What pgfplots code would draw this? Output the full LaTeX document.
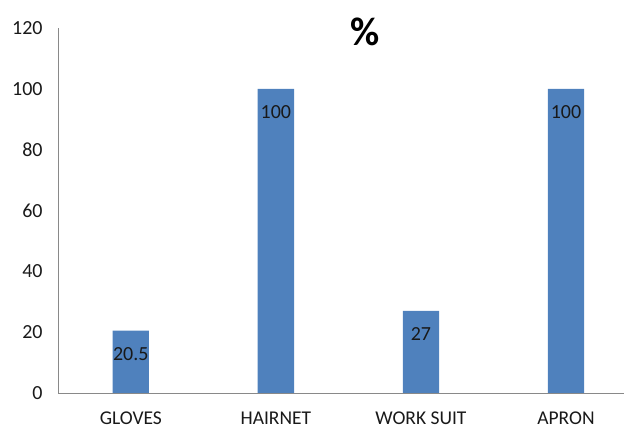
\documentclass[border=0pt]{standalone}
\usepackage{pgfplots}
\pgfplotsset{compat=1.18}
\usepackage{fontspec}
\setmainfont{Carlito}
\definecolor{barblue}{HTML}{4F81BD}
\definecolor{axisgray}{HTML}{898989}
\begin{document}
\begin{tikzpicture}[x=1pt,y=1pt]
\path[use as bounding box] (0,0) rectangle (624,428);
\begin{axis}[
  at={(58.3pt,35pt)}, anchor=south west,
  scale only axis, width=565.7pt, height=365pt,
  xmin=-0.5, xmax=3.4, ymin=0, ymax=120,
  ytick={0,20,...,120},
  xtick={0,1,2,3},
  xticklabels={GLOVES,HAIRNET,WORK SUIT,APRON},
  axis lines*=left,
  axis line style={draw=axisgray, line width=0.9pt},
  major tick length=0pt,
  clip=false,
  tick label style={font=\fontsize{20}{20}\selectfont, inner sep=0pt, text=black!90},
  yticklabel style={xshift=-15.5pt},
  xticklabel style={yshift=-19pt, text depth=0pt, font=\fontsize{19.5}{19.5}\selectfont},
  /pgf/number format/assume math mode=true,
  ybar, bar width=36.3pt,
  nodes near coords,
  nodes near coords style={anchor=north, inner sep=0pt, yshift=-16.4pt, font=\fontsize{20}{20}\selectfont, text=black!90},
]
\addplot[fill=barblue, draw=none] coordinates {(0,20.5) (1,100) (2,27) (3,100)};
\node at (rel axis cs:0.542,0.989) {\fontsize{40}{40}\selectfont\bfseries\%};
\end{axis}
\end{tikzpicture}
\end{document}
